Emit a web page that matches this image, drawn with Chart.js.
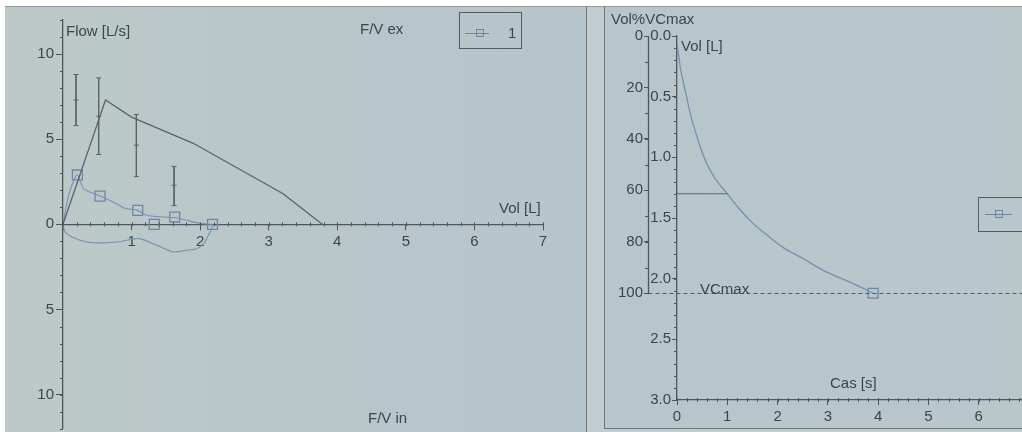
<!DOCTYPE html>
<html>
<head>
<meta charset="utf-8">
<script src="https://cdn.jsdelivr.net/npm/chart.js@4.4.1/dist/chart.umd.min.js"></script>
<style>
  html, body { margin: 0; padding: 0; width: 1022px; height: 432px; overflow: hidden; background: #ffffff; }
  body { position: relative; font-family: 'Liberation Sans', Arial, sans-serif; }
  .bg { position: absolute; box-sizing: border-box; }
  #leftPanel { left: 5px; top: 6px; width: 582px; height: 426px;
    background: linear-gradient(90deg, #bdc9c8 0%, #b8c6ca 60%, #b6c5cb 100%);
    border-top: 1px solid #8f999c; border-right: 1px solid #6f787b; }
  #gap { left: 587px; top: 6px; width: 17px; height: 426px; background: #c2cbce; border-top: 1px solid #8f999c; }
  #rightPanel { left: 604px; top: 6px; width: 430px; height: 423px;
    background: linear-gradient(90deg, #b7c6cc 0%, #b9c7cb 100%);
    border-top: 1px solid #8f999c; border-left: 1px solid #6c7578; border-bottom: 1px solid #6c7578; }
  #rightFoot { left: 604px; top: 429px; width: 430px; height: 3px; background: #c2cbce; }
  canvas { position: absolute; }
  .lbl { position: absolute; font-size: 15px; line-height: 15px; color: #3e4549; white-space: nowrap; }
  .legend { position: absolute; box-sizing: border-box; border: 1px solid #535b5e; }
  .lgLine { position: absolute; height: 1px; background: #6f86a3; }
  .lgBox { position: absolute; width: 8px; height: 8px; box-sizing: border-box; border: 1px solid #6f86a3; }
</style>
</head>
<body>
<div class="bg" id="leftPanel"></div>
<div class="bg" id="gap"></div>
<div class="bg" id="rightPanel"></div>
<div class="bg" id="rightFoot"></div>

<canvas id="fv" width="582" height="431" style="left:5px;top:6px"></canvas>
<canvas id="vt" width="460" height="422" style="left:604px;top:6px"></canvas>

<div class="lbl" style="left:66px;top:23px">Flow [L/s]</div>
<div class="lbl" style="left:360px;top:21px">F/V ex</div>
<div class="lbl" style="left:499px;top:200px">Vol [L]</div>
<div class="lbl" style="left:368px;top:410px">F/V in</div>

<div class="legend" style="left:459px;top:12px;width:63px;height:37px">
  <div class="lgLine" style="left:5px;top:20px;width:24px"></div>
  <div class="lgBox" style="left:16px;top:16px"></div>
  <div class="lbl" style="left:48px;top:12px">1</div>
</div>

<div class="lbl" style="left:611px;top:11px">Vol%VCmax</div>
<div class="lbl" style="left:681px;top:38px">Vol [L]</div>
<div class="lbl" style="left:700px;top:281px">VCmax</div>
<div class="lbl" style="left:830px;top:375px">Cas [s]</div>

<div class="legend" style="left:978px;top:197px;width:60px;height:35px">
  <div class="lgLine" style="left:6px;top:16px;width:27px"></div>
  <div class="lgBox" style="left:16px;top:12px"></div>
</div>

<script>
// ---- Flow-volume loop ----
const volTicks  = [0, 1, 2, 3, 4, 5, 6, 7];
const flowTicks = [-10, -5, 0, 5, 10];

// predicted expiratory curve
const predVol  = [0, 0.62, 1.0, 1.9, 3.21, 3.78];
const predFlow = [0, 7.3, 6.3, 4.76, 1.8, 0];

// predicted ranges (upper limit, predicted value, lower limit)
const refVol  = [0.19, 0.52, 1.07, 1.62];
const refHigh = [8.8, 8.6, 6.45, 3.4];
const refMid  = [7.3, 6.35, 4.65, 2.3];
const refLow  = [5.8, 4.1, 2.8, 1.1];

// measured expiration (trial 1)
const expVol  = [0, 0.04, 0.09, 0.15, 0.21, 0.30, 0.39, 0.54, 0.78, 0.90, 1.09, 1.22, 1.46, 1.63, 1.85, 2.04, 2.18];
const expFlow = [0, 0.9, 1.8, 2.5, 2.9, 2.09, 1.9, 1.66, 1.21, 0.95, 0.82, 0.53, 0.43, 0.4, 0.19, 0.04, 0];

// measured inspiration (trial 1), negative flow
const inspVol  = [0, 0.03, 0.13, 0.35, 0.54, 0.78, 0.98, 1.12, 1.37, 1.61, 1.80, 1.95, 2.07, 2.12, 2.17, 2.18];
const inspFlow = [0, -0.45, -0.74, -1.04, -1.09, -1.04, -0.9, -0.84, -1.23, -1.62, -1.52, -1.43, -1.04, -0.64, -0.25, 0];

// trial 1 markers
const markVol  = [0.21, 0.54, 1.09, 1.33, 1.63, 2.18];
const markFlow = [2.9, 1.66, 0.82, 0, 0.43, 0];

// ---- Volume-time curve ----
const timeTicks = [0, 1, 2, 3, 4, 5, 6];
const volLTicks = [0, 0.5, 1.0, 1.5, 2.0, 2.5, 3.0];
const pctTicks  = [0, 20, 40, 60, 80, 100];
const curveTime = [0, 0.03, 0.07, 0.12, 0.19, 0.27, 0.36, 0.46, 0.58, 0.75, 1.0, 1.25, 1.5, 1.76, 2.1, 2.49, 2.9, 3.28, 3.6, 3.9];
const curveVol  = [0.06, 0.15, 0.27, 0.37, 0.50, 0.65, 0.78, 0.91, 1.04, 1.17, 1.30, 1.43, 1.54, 1.63, 1.74, 1.83, 1.93, 2.00, 2.06, 2.12];
const VC_MAX   = 2.12;
const FEV1     = 1.30;
const FEV1_T   = 1.0;
const END_TIME = 3.9;

// ---- styling ----
const AXIS = '#4e565a';
const TEXT = '#3e4549';
const PRED = '#5b6367';
const MEAS = '#7890b0';
const MARK = '#6f86a3';
const FONT = { family: "'Liberation Sans', Arial, sans-serif", size: 15 };

Chart.defaults.font.family = FONT.family;
Chart.defaults.font.size = FONT.size;
Chart.defaults.color = TEXT;

const pts = (xs, ys) => xs.map((x, i) => ({ x, y: ys[i] }));
const setTicks = arr => scale => { scale.ticks = arr.map(v => ({ value: v })); };
// fixed axis width, no extra room reserved for end labels
const fixWidth = w => s => { s.width = w; s.paddingTop = 0; s.paddingBottom = 0; };

// short intermediate tick marks along each axis
function axisDetail(specs, extra) {
  return {
    id: 'axisDetail',
    afterDraw(chart) {
      const ctx = chart.ctx;
      ctx.save();
      ctx.strokeStyle = AXIS;
      ctx.lineWidth = 1;
      specs.forEach(sp => {
        const s = chart.scales[sp.scale];
        const n = Math.round((sp.to - sp.from) / sp.step);
        ctx.beginPath();
        for (let i = 0; i <= n; i++) {
          const p = Math.round(s.getPixelForValue(sp.from + i * sp.step)) + 0.5;
          if (s.isHorizontal()) {
            const base = sp.cross ? chart.scales[sp.cross].getPixelForValue(sp.crossValue) : s.top;
            ctx.moveTo(p, base - sp.before);
            ctx.lineTo(p, base + sp.after);
          } else {
            ctx.moveTo(s.right - sp.len, p);
            ctx.lineTo(s.right, p);
          }
        }
        ctx.stroke();
      });
      ctx.restore();
      if (extra) extra(chart);
    }
  };
}

const lineSet = (data, color, width, tension) => ({
  data, showLine: true, borderColor: color, borderWidth: width,
  pointRadius: 0, tension: tension || 0, fill: false
});

// predicted range bars
const rangeSets = refVol.map((v, i) => ({
  data: [{ x: v, y: refHigh[i] }, { x: v, y: refMid[i] }, { x: v, y: refLow[i] }],
  showLine: true, borderColor: PRED, borderWidth: 1,
  pointStyle: 'line', pointRadius: 2.5, pointBorderColor: PRED, pointBorderWidth: 1
}));

new Chart(document.getElementById('fv'), {
  type: 'scatter',
  data: {
    datasets: [
      lineSet(pts(predVol, predFlow), PRED, 1.3),
      ...rangeSets,
      lineSet(pts(expVol, expFlow), MEAS, 1.1, 0.25),
      lineSet(pts(inspVol, inspFlow), MEAS, 1.1, 0.25),
      {
        data: pts(markVol, markFlow), showLine: false,
        pointStyle: 'rect', pointRadius: 7, pointBorderWidth: 1.3,
        pointBorderColor: MARK, pointBackgroundColor: 'rgba(0,0,0,0)'
      }
    ]
  },
  options: {
    responsive: false, animation: false, events: [],
    layout: { padding: { top: 14, bottom: 4, left: 0, right: 44 } },
    plugins: { legend: { display: false }, tooltip: { enabled: false } },
    scales: {
      x: {
        type: 'linear', min: 0, max: 7, position: { y: 0 },
        afterBuildTicks: setTicks(volTicks),
        ticks: { callback: v => (v === 0 ? '' : String(v)), padding: 4, autoSkip: false, maxRotation: 0, color: TEXT },
        grid: { drawOnChartArea: false, drawTicks: true, tickLength: 5, color: AXIS },
        border: { display: true, color: AXIS, width: 1.3 }
      },
      y: {
        type: 'linear', min: -12, max: 12, position: 'left',
        afterFit: fixWidth(58),
        afterBuildTicks: setTicks(flowTicks),
        ticks: { callback: v => String(Math.abs(v)), padding: 2, autoSkip: false, color: TEXT },
        grid: { drawOnChartArea: false, drawTicks: true, tickLength: 7, color: AXIS },
        border: { display: true, color: AXIS, width: 1.3 }
      }
    }
  },
  plugins: [axisDetail([
    { scale: 'y', from: -12, to: 12, step: 1, len: 3 },
    { scale: 'x', from: 0, to: 7, step: 0.2, cross: 'y', crossValue: 0, before: 2, after: 2 }
  ])]
});

// reference lines of the volume-time view
function vtExtras(chart) {
  const ctx = chart.ctx;
  const pct = chart.scales.pct;
  const x0 = Math.round(pct.right) + 0.5;
  ctx.save();
  ctx.strokeStyle = AXIS;
  ctx.lineWidth = 1.3;
  ctx.beginPath();
  ctx.moveTo(x0, pct.getPixelForValue(0));
  ctx.lineTo(x0, pct.getPixelForValue(100) + 1);
  ctx.stroke();
  const yv = Math.round(chart.scales.vol.getPixelForValue(VC_MAX)) + 0.5;
  ctx.lineWidth = 1;
  ctx.strokeStyle = '#555d61';
  ctx.setLineDash([4, 3]);
  ctx.beginPath();
  ctx.moveTo(x0, yv);
  ctx.lineTo(chart.width, yv);
  ctx.stroke();
  ctx.restore();
}

new Chart(document.getElementById('vt'), {
  type: 'scatter',
  data: {
    datasets: [
      { ...lineSet([{ x: 0, y: FEV1 }, { x: FEV1_T, y: FEV1 }], PRED, 1.1), yAxisID: 'vol' },
      { ...lineSet(pts(curveTime, curveVol), MEAS, 1.3), cubicInterpolationMode: 'monotone', yAxisID: 'vol' },
      {
        data: [{ x: END_TIME, y: VC_MAX }], yAxisID: 'vol', showLine: false,
        pointStyle: 'rect', pointRadius: 7, pointBorderWidth: 1.3,
        pointBorderColor: MARK, pointBackgroundColor: 'rgba(0,0,0,0)'
      }
    ]
  },
  options: {
    responsive: false, animation: false, events: [],
    layout: { padding: { top: 30, bottom: 0, left: 0, right: 35 } },
    plugins: { legend: { display: false }, tooltip: { enabled: false } },
    scales: {
      x: {
        type: 'linear', min: 0, max: 7, position: 'bottom',
        afterFit: s => { s.height = 28; },
        afterBuildTicks: setTicks(timeTicks),
        ticks: { padding: 3, autoSkip: false, maxRotation: 0, color: TEXT },
        grid: { drawOnChartArea: false, drawTicks: true, tickLength: 5, color: AXIS },
        border: { display: true, color: AXIS, width: 1.3 }
      },
      vol: {
        type: 'linear', position: 'left', reverse: true, min: 0, max: 3, weight: 0,
        afterFit: fixWidth(29),
        afterBuildTicks: setTicks(volLTicks),
        ticks: { callback: v => v.toFixed(1), padding: 1, autoSkip: false, color: TEXT },
        grid: { drawOnChartArea: false, drawTicks: true, tickLength: 5, color: AXIS },
        border: { display: true, color: AXIS, width: 1.3 }
      },
      pct: {
        type: 'linear', position: 'left', reverse: true, min: 0, max: 3 / VC_MAX * 100, weight: 1,
        afterFit: fixWidth(44),
        afterBuildTicks: setTicks(pctTicks),
        ticks: { padding: 1, autoSkip: false, color: TEXT },
        grid: { drawOnChartArea: false, drawTicks: true, tickLength: 4, color: AXIS },
        border: { display: false }
      }
    }
  },
  plugins: [axisDetail([
    { scale: 'vol', from: 0, to: 3, step: 0.1, len: 3 },
    { scale: 'pct', from: 0, to: 100, step: 10, len: 3 },
    { scale: 'x', from: 0, to: 7, step: 0.2, before: 2, after: 2 }
  ], vtExtras)]
});
</script>
</body>
</html>
